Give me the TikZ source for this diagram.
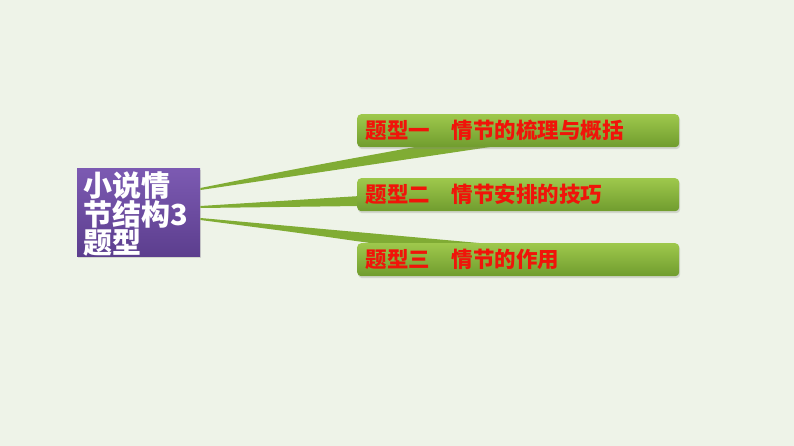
\documentclass[tikz,border=0pt]{standalone}
\usepackage{fontspec}
\setmainfont{Noto Sans CJK SC}
\usetikzlibrary{calc, shadows}

\definecolor{bgcol}{RGB}{238,243,232}
\definecolor{leaftop}{RGB}{158,200,76}
\definecolor{leafbot}{RGB}{112,156,46}
\definecolor{rootop}{RGB}{124,90,178}
\definecolor{rootbot}{RGB}{92,62,142}
\definecolor{linkcol}{RGB}{128,172,52}
\definecolor{titlered}{RGB}{240,20,10}

\tikzset{
    leafbox/.style={rectangle, rounded corners=4pt, minimum width=322pt, minimum height=33pt,
        top color=leaftop, bottom color=leafbot, drop shadow={opacity=0.25, shadow xshift=1pt, shadow yshift=-2pt},
        anchor=north west},
    leaftext/.style={anchor=west, text=titlered, font=\fontsize{21.5}{21.5}\selectfont\bfseries},
    link/.style={fill=linkcol},
}

\begin{document}
\begin{tikzpicture}[x=1pt, y=-1pt]
    \fill[bgcol] (0,0) rectangle (794,446);
    \useasboundingbox (0,0) rectangle (794,446);

    % root box
    \node[rectangle, minimum width=123pt, minimum height=88pt, anchor=north west,
          top color=rootop, bottom color=rootbot,
          drop shadow={opacity=0.25, shadow xshift=1pt, shadow yshift=-2pt}] (root) at (77,168) {};
    \node[anchor=north west, align=left, text=white, inner sep=0pt,
          font=\fontsize{29}{27.5}\selectfont\bfseries] (rootlabel) at (83,172) {小说情\\节结构3\\题型};

    % connectors
    \coordinate (r1) at ($(root.north east)+(0,21)$);
    \coordinate (r2) at ($(root.north east)+(0,39)$);
    \coordinate (r3) at ($(root.north east)+(0,51)$);
    \fill[link] ($(r1)+(0,-1)$) .. controls (300,168) .. (415,147) -- (490,147) -- ($(r1)+(0,1)$) -- cycle;
    \fill[link] ($(r2)+(0,-1)$) -- (360,196) -- (360,206) -- ($(r2)+(0,1)$) -- cycle;
    \fill[link] ($(r3)+(0,-1)$) -- (490,244) -- (377,244) .. controls (300,233) .. ($(r3)+(0,1)$) -- cycle;

    % topic boxes
    \node[leafbox] (t1) at (357,114) {};
    \node[leafbox] (t2) at (357,178) {};
    \node[leafbox] (t3) at (357,243) {};
    \node[leaftext] (l1) at ($(t1.west)+(5,0)$) {题型一\quad 情节的梳理与概括};
    \node[leaftext] (l2) at ($(t2.west)+(5,0)$) {题型二\quad 情节安排的技巧};
    \node[leaftext] (l3) at ($(t3.west)+(5,0)$) {题型三\quad 情节的作用};
\end{tikzpicture}
\end{document}
